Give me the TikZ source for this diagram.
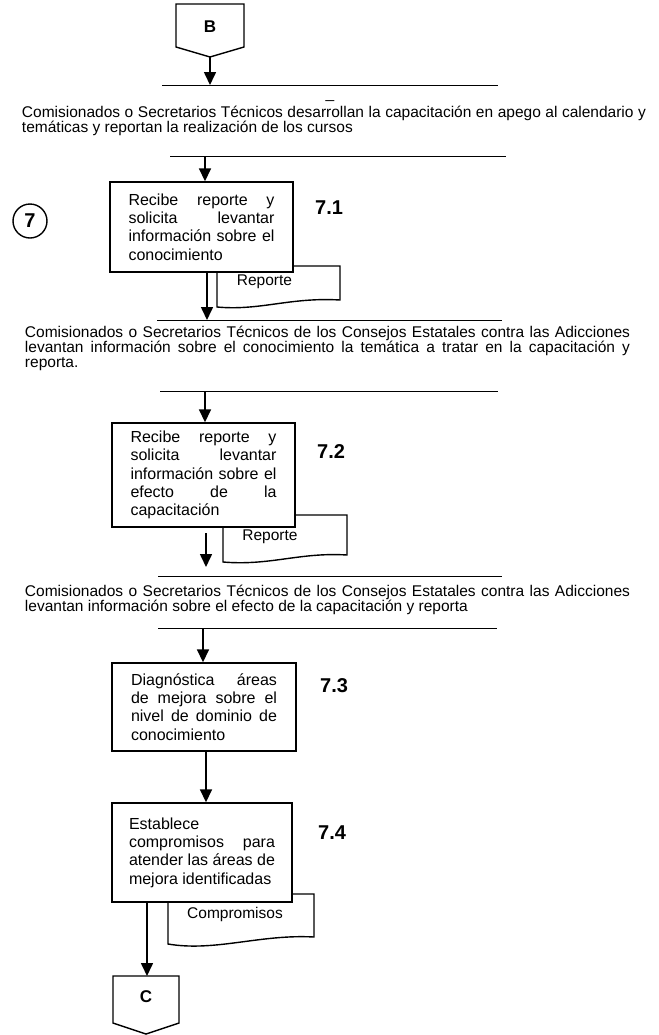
\documentclass[tikz,border=0pt]{standalone}
\usepackage{fontspec}
\setmainfont{Liberation Sans}
\usetikzlibrary{arrows.meta}
\lineskiplimit=-100pt
\lineskip=0pt
\begin{document}
\begin{tikzpicture}[x=1bp,y=-1bp,
  procbox/.style={draw, line width=1.4bp, fill=white, inner sep=0pt, text width=146bp, align=justify,
    font=\fontsize{16bp}{18.3bp}\selectfont},
  para/.style={inner sep=0pt, align=justify, font=\fontsize{15.5bp}{14.4bp}\selectfont},
  plain/.style={inner sep=0pt, font=\fontsize{15.5bp}{18bp}\selectfont},
  rule/.style={line width=0.8bp},
  outline/.style={draw, line width=1.4bp, fill=white},
  arr/.style={line width=1.6bp, -{Triangle[width=12bp,length=13bp]}},
  steplabel/.style={inner sep=0pt, anchor=west, font=\fontsize{20bp}{24bp}\bfseries\selectfont},
  conlabel/.style={inner sep=0pt, font=\fontsize{17bp}{19bp}\bfseries\selectfont}]
\useasboundingbox (0,0) rectangle (659,1035);

% ---------- connector B ----------
\coordinate (Bp) at (210,57);
\draw[outline] (176,4) -- (244,4) -- (244,47) -- (Bp) -- (176,47) -- cycle;
\node[conlabel] (B) at (210,27) {B};

% ---------- rule 1 ----------
\coordinate (l1w) at (162,85);
\coordinate (l1e) at (498,85);
\draw[rule] (l1w) -- (l1e);
\draw[arr] (Bp) -- (Bp |- l1w);

\node[plain, anchor=base] (us) at (330,98) {\_};

\node[para, text width=624bp] (p1) at (334,121)
 {Comisionados o Secretarios Técnicos desarrollan la capacitación en apego al calendario y\linebreak
  temáticas y reportan la realización de los cursos};

% ---------- rule 2 ----------
\coordinate (l2w) at (170,156);
\coordinate (l2e) at (506,156);
\coordinate (a2) at (205,156);
\draw[rule] (l2w) -- (l2e);

% ---------- circle 7 ----------
\node[circle, draw, line width=1.4bp, minimum size=34bp, inner sep=0pt,
      font=\fontsize{20bp}{22bp}\bfseries\selectfont] (c7) at (30,221) {7};

% ---------- 7.1 ----------
\draw[outline] (217,266) -- (340,266) -- (340,300)
   .. controls (290,297) and (260,311) .. (217,307) -- cycle;
\node[plain] (rep1) at (264.5,282) {Reporte};
\node[procbox, minimum width=183bp, minimum height=90bp] (b71) at (201.5,227)
 {Recibe reporte y\linebreak solicita levantar\linebreak información sobre el\linebreak conocimiento};
\node[steplabel] (s71) at (315,208) {7.1};
\draw[arr] (a2) -- (a2 |- b71.north);

% ---------- rule 3 ----------
\coordinate (l3w) at (157,320);
\coordinate (l3e) at (502,320);
\coordinate (a3) at (207,320);
\draw[rule] (l3w) -- (l3e);
\draw[arr] (b71.south -| a3) -- (a3);

\node[para, text width=605bp] (p2) at (327.5,348)
 {Comisionados o Secretarios Técnicos de los Consejos Estatales contra las Adicciones\linebreak
  levantan información sobre el conocimiento la temática a tratar en la capacitación y\linebreak
  reporta.};

% ---------- rule 4 ----------
\coordinate (l4w) at (160,391);
\coordinate (l4e) at (498,391);
\coordinate (a4) at (205,391);
\draw[rule] (l4w) -- (l4e);

% ---------- 7.2 ----------
\draw[outline] (223,515) -- (347,515) -- (347,555)
   .. controls (300,552) and (270,566) .. (223,562) -- cycle;
\node[plain] (rep2) at (270,537) {Reporte};
\node[procbox, minimum width=183bp, minimum height=104bp] (b72) at (203.5,475)
 {Recibe reporte y\linebreak solicita levantar\linebreak información sobre el\linebreak efecto de la\linebreak capacitación};
\node[steplabel] (s72) at (317,452) {7.2};
\draw[arr] (a4) -- (a4 |- b72.north);

% ---------- rule 5 ----------
\coordinate (l5w) at (158,576);
\coordinate (l5e) at (502,576);
\coordinate (a5) at (206,567);
\draw[rule] (l5w) -- (l5e);
\draw[arr] (206,533) -- (a5);

\node[para, text width=605bp] (p3) at (327.5,600)
 {Comisionados o Secretarios Técnicos de los Consejos Estatales contra las Adicciones\linebreak
  levantan información sobre el efecto de la capacitación y reporta};

% ---------- rule 6 ----------
\coordinate (l6w) at (158,628);
\coordinate (l6e) at (497,628);
\coordinate (a6) at (203,628);
\draw[rule] (l6w) -- (l6e);

% ---------- 7.3 ----------
\node[procbox, minimum width=184bp, minimum height=88bp] (b73) at (204,707)
 {Diagnóstica áreas\linebreak de mejora sobre el\linebreak nivel de dominio de\linebreak conocimiento};
\node[steplabel] (s73) at (320,686) {7.3};
\draw[arr] (a6) -- (a6 |- b73.north);

% ---------- 7.4 ----------
\draw[outline] (168,894) -- (314,894) -- (314,937)
   .. controls (260,934) and (215,952) .. (168,944) -- cycle;
\node[plain] (comp) at (235,914) {Compromisos};
\node[procbox, minimum width=180bp, minimum height=99bp] (b74) at (202,852.5)
 {Establece\newline compromisos para\linebreak atender las áreas de\linebreak mejora identificadas};
\node[steplabel] (s74) at (318,833) {7.4};
\coordinate (a7) at (206,751);
\draw[arr] (b73.south -| a7) -- (a7 |- b74.north);

% ---------- connector C ----------
\coordinate (Ct) at (147,976);
\coordinate (Cp) at (146,1034);
\draw[outline] (113,976) -- (179,976) -- (179,1023) -- (Cp) -- (113,1023) -- cycle;
\node[conlabel] (C) at (146,997) {C};
\draw[arr] (b74.south -| Ct) -- (Ct);
\end{tikzpicture}
\end{document}
